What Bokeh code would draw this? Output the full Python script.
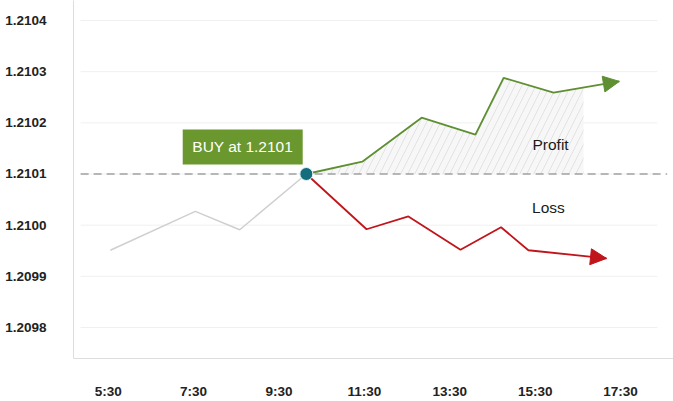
from bokeh.plotting import figure
from bokeh.models import Range1d, FixedTicker, NumeralTickFormatter, Arrow, NormalHead
from bokeh.core.properties import value
from bokeh.embed import file_html
from bokeh.resources import INLINE
import numpy as np

# ---- data ----
tick_hours = [5.5, 7.5, 9.5, 11.5, 13.5, 15.5, 17.5]
tick_labels = ["5:30", "7:30", "9:30", "11:30", "13:30", "15:30", "17:30"]
price_ticks = [1.2098, 1.2099, 1.2100, 1.2101, 1.2102, 1.2103, 1.2104]

pre_x = [5.55, 7.54, 8.58, 10.14]
pre_y = [1.209951, 1.210027, 1.209991, 1.21010]
profit_x = [10.14, 11.45, 12.84, 14.10, 14.76, 15.93, 17.47]
profit_y = [1.21010, 1.210124, 1.210210, 1.210177, 1.210288, 1.210259, 1.210281]
loss_x = [10.14, 11.55, 12.53, 13.75, 14.70, 15.34, 17.17]
loss_y = [1.21010, 1.209992, 1.210017, 1.209952, 1.209996, 1.209951, 1.209935]
buy_time = 10.14
buy_price = 1.2101
buy_label = "BUY at 1.2101"
profit_zone_end = 16.63

# ---- styles / placement ----
GREEN = "#5e8f32"
BOX_GREEN = "#6a982f"
RED = "#c0151b"
GREY = "#cfcfcf"
TEAL = "#136d7d"
FONT = "Liberation Sans"

p = figure(width=673, height=401, output_backend="svg", toolbar_location=None,
           x_range=Range1d(4.687, 18.739), y_range=Range1d(1.2097394, 1.2104391),
           min_border_left=73, min_border_right=0, min_border_top=0, min_border_bottom=43)
p.outline_line_color = None
p.xgrid.visible = False
p.ygrid.visible = False

for ax in (p.xaxis[0], p.yaxis[0]):
    ax.axis_line_color = "#dddddd"
    ax.major_tick_out = 0
    ax.major_tick_in = 0
    ax.minor_tick_out = 0
    ax.minor_tick_in = 0
    ax.major_tick_line_color = None
    ax.minor_tick_line_color = None
    ax.major_label_text_font = FONT
    ax.major_label_text_font_style = "bold"
    ax.major_label_text_font_size = "13.5px"
    ax.major_label_text_color = "#222222"

p.xaxis.ticker = FixedTicker(ticks=tick_hours)
p.xaxis.major_label_overrides = {t: l for t, l in zip(tick_hours, tick_labels)}
p.xaxis.major_label_standoff = 25
p.yaxis.ticker = FixedTicker(ticks=price_ticks)
p.yaxis.formatter = NumeralTickFormatter(format="0.0000")
p.yaxis.major_label_standoff = 27

# horizontal grid lines
p.segment(x0=4.854, x1=18.364, y0=price_ticks, y1=price_ticks, line_color="#f0f0f0", line_width=1)

# profit hatched zone
gx = np.array(profit_x)
gy = np.array(profit_y)
inside = gx < profit_zone_end
zone_x = list(gx[inside]) + [profit_zone_end, profit_zone_end]
zone_y = list(gy[inside]) + [float(np.interp(profit_zone_end, gx, gy)), buy_price]
p.patch(zone_x, zone_y, fill_color="#f7f7f7", line_color=None,
        hatch_pattern="/", hatch_color="#e2e2e2", hatch_scale=14, hatch_weight=1)

# buy level dashed line
p.segment(x0=4.854, x1=18.59, y0=buy_price, y1=buy_price, line_color="#777777",
          line_width=1.2, line_dash="8 5")

# lines
p.line(pre_x, pre_y, line_color=GREY, line_width=1.5)
p.line(profit_x, profit_y, line_color=GREEN, line_width=1.8)
p.line(loss_x, loss_y, line_color=RED, line_width=1.8)

p.add_layout(Arrow(end=NormalHead(size=16, fill_color=GREEN, line_color=GREEN),
                   x_start=profit_x[-2], y_start=profit_y[-2],
                   x_end=profit_x[-1], y_end=profit_y[-1], line_alpha=0))
p.add_layout(Arrow(end=NormalHead(size=16, fill_color=RED, line_color=RED),
                   x_start=loss_x[-2], y_start=loss_y[-2],
                   x_end=loss_x[-1], y_end=loss_y[-1], line_alpha=0))

# buy marker
p.scatter([buy_time], [buy_price], size=13, fill_color=TEAL, line_color="#e8f4f6", line_width=1)

# buy label box
p.rect([8.65], [1.210153], width=120, height=35, width_units="screen", height_units="screen",
       fill_color=BOX_GREEN, line_color=None)
p.text([8.65], [1.210153], text=[buy_label], text_color="white", text_align="center",
       text_baseline="middle", text_font=value(FONT), text_font_size="15.5px")

# zone labels
p.text([15.86], [1.210158], text=["Profit"], text_color="#1a1a1a", text_align="center",
       text_baseline="middle", text_font=value(FONT), text_font_size="15.5px")
p.text([15.81], [1.210035], text=["Loss"], text_color="#1a1a1a", text_align="center",
       text_baseline="middle", text_font=value(FONT), text_font_size="15.5px")

open("out.html", "w").write(file_html(p, INLINE))
